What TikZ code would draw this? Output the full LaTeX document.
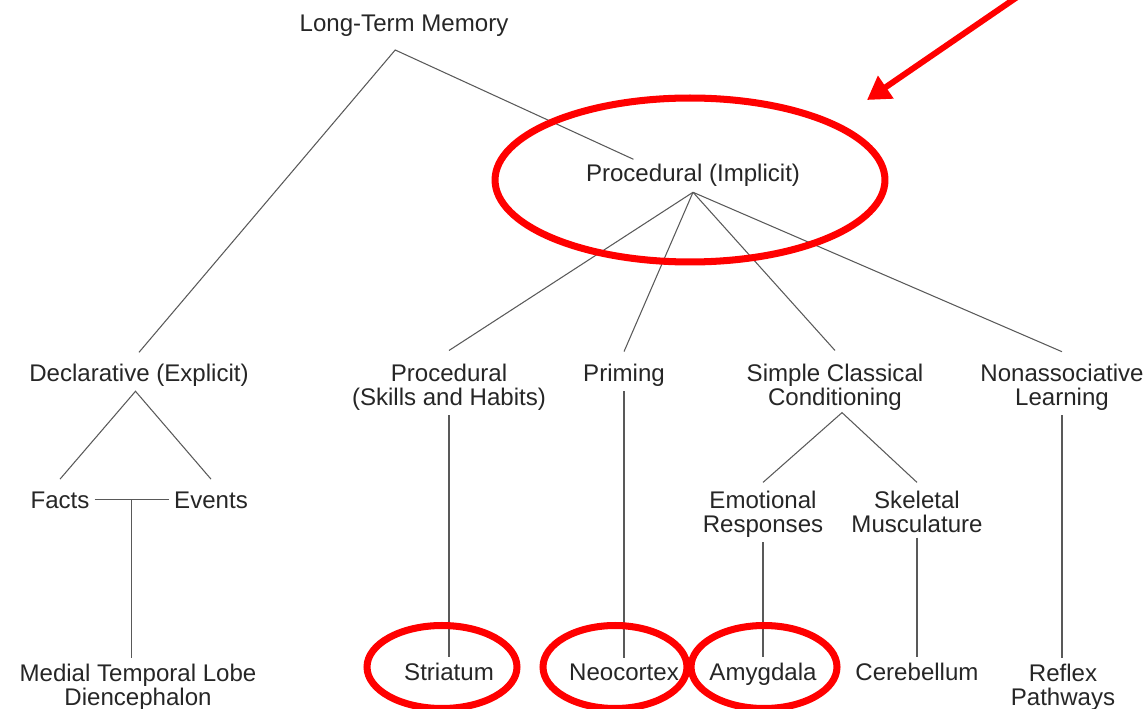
\documentclass[tikz,border=0pt]{standalone}
\usepackage{fontspec}
\setmainfont{Liberation Sans}
\usetikzlibrary{arrows.meta, calc}

\begin{document}
\begin{tikzpicture}[
    x=0.02cm, y=-0.02cm,
    every node/.style={font=\fontsize{13.7pt}{13.6pt}\selectfont, text=black!85,
                       inner sep=0pt, outer sep=3pt, align=center, anchor=base},
    link/.style={draw=black!65, line width=0.6pt},
    ring/.style={draw=red, line width=4pt},
    pointer/.style={-{Triangle[length=13pt, width=15pt]}, draw=red, line width=3.4pt},
]
\useasboundingbox (0,0) rectangle (1146,709);
\clip (0,0) rectangle (1146,709);

%% --- Top levels ---
\node (ltm)   at (404,32)  {Long-Term Memory};
\node (procI) at (693,182) {Procedural (Implicit)};
\node (decl)  at (139,381) {Declarative (Explicit)};

%% --- Implicit branches ---
\node (skill) at (449,405)  {Procedural\\(Skills and Habits)};
\node (prim)  at (624,381)  {Priming};
\node (scc)   at (835,405)  {Simple Classical\\Conditioning};
\node (nonas) at (1062,405) {Nonassociative\\Learning};

%% --- Explicit branches ---
\node (facts)  at (60,508)  {Facts};
\node (events) at (211,508) {Events};

%% --- Conditioning branches ---
\node (emo)  at (763,532) {Emotional\\Responses};
\node (skel) at (917,532) {Skeletal\\Musculature};

%% --- Brain structures ---
\node (mtl)  at (138,705)  {Medial Temporal Lobe\\Diencephalon};
\node (stri) at (449,680)  {Striatum};
\node (neo)  at (624,680)  {Neocortex};
\node (amy)  at (763,680)  {Amygdala};
\node (cere) at (917,680)  {Cerebellum};
\node (refl) at (1063,705) {Reflex\\Pathways};

%% --- Junctions ---
\coordinate (ltm-j)   at ([xshift=-5pt, yshift=-4.4pt]ltm.south);
\coordinate (procI-j) at (procI.south);
\coordinate (decl-j)  at ([xshift=-2pt]decl.south);
\coordinate (scc-j)   at ([xshift=4pt, yshift=1.5pt]scc.south);
\coordinate (ft-j)    at ($(facts.east)!0.5!(events.west)$);

%% --- Tree links ---
\draw[link] ([yshift=3.4pt]decl.north) -- (ltm-j) -- ([xshift=30pt]procI.north west);
\draw[link] ([yshift=4.5pt]skill.north) -- (procI-j);
\draw[link] ([yshift=3.8pt]prim.north) -- (procI-j);
\draw[link] ([yshift=4.5pt]scc.north) -- (procI-j);
\draw[link] ([yshift=3.8pt]nonas.north) -- (procI-j);
\draw[link] ([yshift=4pt]facts.north) -- (decl-j) -- ([yshift=4pt]events.north);
\draw[link] ([yshift=1.7pt]emo.north) -- (scc-j) -- ([yshift=1.7pt]skel.north);

%% --- Down to structures ---
\draw[link] (facts.east) -- (events.west);
\draw[link] (ft-j) -- (ft-j |- mtl.north);
\draw[link] (skill.south) -- (skill.south |- stri.north);
\draw[link] (prim.south) -- (prim.south |- neo.north);
\draw[link] (emo.south) -- (emo.south |- amy.north);
\draw[link] (skel.south) -- (skel.south |- cere.north);
\draw[link] (nonas.south) -- (nonas.south |- refl.north);

%% --- Red highlights ---
\draw[ring] (690,180) ellipse [x radius=3.9cm, y radius=1.64cm];
\draw[ring] (442,667) ellipse [x radius=1.5cm, y radius=0.83cm];
\draw[ring] (615,667) ellipse [x radius=1.44cm, y radius=0.83cm];
\draw[ring] (764,667) ellipse [x radius=1.46cm, y radius=0.83cm];
\draw[pointer] (1042,-20) -- (867,100);

\end{tikzpicture}
\end{document}
